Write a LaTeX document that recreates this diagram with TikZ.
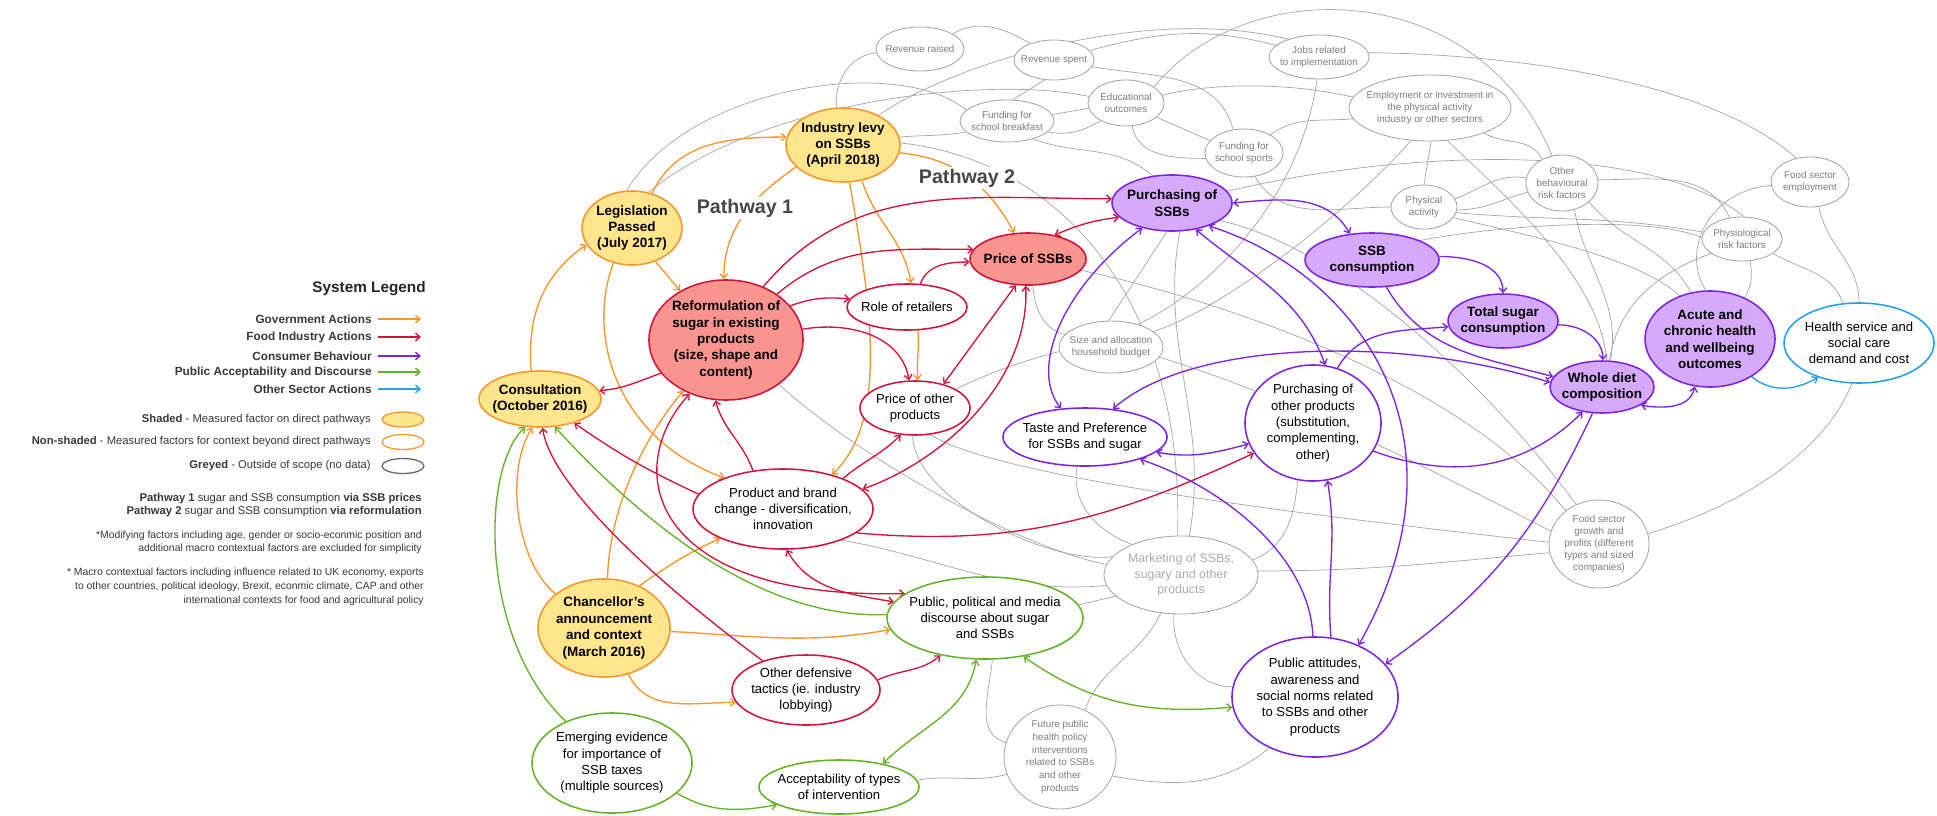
\documentclass[tikz,border=0pt]{standalone}
\usepackage{fontspec}
\setmainfont{Liberation Sans}
\usetikzlibrary{arrows.meta,shapes.geometric,backgrounds}
\definecolor{govc}{RGB}{247,150,45}
\definecolor{indc}{RGB}{208,20,60}
\definecolor{conc}{RGB}{125,35,225}
\definecolor{pubc}{RGB}{100,178,40}
\definecolor{othc}{RGB}{35,160,240}
\definecolor{yelf}{RGB}{255,229,140}
\definecolor{redf}{RGB}{250,148,142}
\definecolor{purf}{RGB}{214,170,250}
\definecolor{lnkc}{RGB}{165,165,165}
\definecolor{gtx}{RGB}{125,125,125}

\begin{document}
\begin{tikzpicture}[x=0.025cm,y=-0.025cm,
   sz/.style 2 args={minimum width=#1*0.05cm,minimum height=#2*0.05cm},
   ent/.style={ellipse,inner sep=-60pt,align=center,line width=1.1pt,fill=white},
   bld/.style={font=\fontsize{9.6}{11.7}\selectfont\bfseries},
   reg/.style={font=\fontsize{9.3}{11.6}\selectfont},
   shd/.style={ent,bld,draw=govc,fill=yelf},
   rdf/.style={ent,bld,draw=indc,fill=redf},
   rdn/.style={ent,reg,draw=indc},
   grn/.style={ent,reg,draw=pubc},
   ppf/.style={ent,bld,draw=conc,fill=purf},
   ppn/.style={ent,reg,draw=conc},
   blu/.style={ent,reg,draw=othc},
   gry/.style={ent,draw=lnkc,line width=0.6pt,text=gtx,font=\fontsize{7}{8.5}\selectfont},
   onetip/.style={-{Straight Barb[length=3.2pt,width=5.5pt]}},
   twoway/.style={{Straight Barb[length=3.2pt,width=5.5pt]}-{Straight Barb[length=3.2pt,width=5.5pt]}},
   gov/.style={draw=govc,line width=0.95pt,onetip},
   ind/.style={draw=indc,line width=0.95pt,onetip},
   con/.style={draw=conc,line width=0.95pt,onetip},
   pub/.style={draw=pubc,line width=0.95pt,onetip},
   oth/.style={draw=othc,line width=0.95pt,onetip},
   lnk/.style={draw=lnkc,line width=0.5pt},
   pth/.style={font=\fontsize{14}{16}\selectfont\bfseries,text=black!72,fill=white,inner sep=1.5pt},
   lgl/.style={font=\fontsize{8.4}{10}\selectfont\bfseries,text=black!78,inner sep=0pt},
   lgt/.style={font=\fontsize{8}{9.5}\selectfont,text=black!78,inner sep=0pt}]
\useasboundingbox (0,0) rectangle (1937,815);

% measured factors on the pathways
\node[shd,sz={50}{37}] (leg) at (632,228) {Legislation\\Passed\\(July 2017)};
\node[shd,sz={57}{37}] (levy) at (843,145) {Industry levy\\on SSBs\\(April 2018)};
\node[shd,sz={61}{28}] (cons) at (540,399) {Consultation\\(October 2016)};
\node[shd,sz={66}{49}] (chanc) at (604,628) {Chancellor's\\announcement\\and context\\(March 2016)};
\node[rdf,sz={77}{60}] (reform) at (726,340) {Reformulation of\\sugar in existing\\products\\(size, shape and\\content)};
\node[rdf,sz={58}{26}] (pssb) at (1028,259) {Price of SSBs};
\node[rdn,sz={60}{23}] (retail) at (907,307) {Role of retailers};
\node[rdn,sz={55}{27}] (pother) at (915,408) {Price of other\\products};
\node[rdn,sz={90}{40}] (brand) at (783,509) {Product and brand\\change - diversification,\\innovation};
\node[rdn,sz={74}{35}] (defend) at (806,690) {Other defensive\\tactics (ie. industry\\lobbying)};
\node[grn,sz={98}{41}] (disc) at (985,618) {Public, political and media\\discourse about sugar\\and SSBs};
\node[grn,sz={80}{50}] (evid) at (612,763) {Emerging evidence\\for importance of\\SSB taxes\\(multiple sources)};
\node[grn,sz={80}{27}] (accept) at (839,787) {Acceptability of types\\of intervention};
\node[ppf,sz={60}{28}] (purssb) at (1172,203) {Purchasing of\\SSBs};
\node[ppf,sz={67}{27}] (ssbcons) at (1372,260) {SSB\\consumption};
\node[ppf,sz={55}{27}] (totsug) at (1503,321) {Total sugar\\consumption};
\node[ppf,sz={52}{26}] (diet) at (1602,387) {Whole diet\\composition};
\node[ppf,sz={65}{48}] (acute) at (1710,339) {Acute and\\chronic health\\and wellbeing\\outcomes};
\node[ppn,sz={82}{29}] (taste) at (1085,437) {Taste and Preference\\for SSBs and sugar};
\node[ppn,sz={68}{58}] (purother) at (1313,423) {Purchasing of\\other products\\(substitution,\\complementing,\\other)};
\node[ppn,sz={83}{60}] (attit) at (1315,697) {Public attitudes,\\awareness and\\social norms related\\to SSBs and other\\products};
\node[blu,sz={75}{40}] (health) at (1859,343) {Health service and\\social care\\demand and cost};

% greyed, out of scope
\node[gry,sz={44}{22}] (revraised) at (920,49) {Revenue raised};
\node[gry,sz={40}{20}] (revspent) at (1054,60) {Revenue spent};
\node[gry,sz={47}{21}] (breakfast) at (1007,121) {Funding for\\school breakfast};
\node[gry,sz={38}{23}] (edu) at (1126,103) {Educational\\outcomes};
\node[gry,sz={39}{24}] (sports) at (1244,153) {Funding for\\school sports};
\node[gry,sz={50}{22}] (jobs) at (1319,57) {Jobs related\\to implementation};
\node[gry,sz={81}{33}] (employ) at (1430,108) {Employment or investment in\\the physical activity\\industry or other sectors};
\node[gry,sz={33}{22}] (physact) at (1424,207) {Physical\\activity};
\node[gry,sz={36}{28}] (otherrisk) at (1562,183) {Other\\behavioural\\risk factors};
\node[gry,sz={39}{25}] (foodemp) at (1810,182) {Food sector\\employment};
\node[gry,sz={40}{22}] (physio) at (1742,239) {Physiological\\risk factors};
\node[gry,sz={52}{26}] (budget) at (1111,347) {Size and allocation\\household budget};
\node[gry,sz={77}{39},font=\fontsize{8.8}{11.2}\selectfont,text=black!33] (market) at (1181,575) {Marketing of SSBs,\\sugary and other\\products};
\node[gry,sz={56}{52},font=\fontsize{7}{9}\selectfont] (future) at (1060,757) {Future public\\health policy\\interventions\\related to SSBs\\and other\\products};
\node[gry,sz={50}{44},font=\fontsize{7.1}{8.6}\selectfont] (foodgrowth) at (1599,544) {Food sector\\growth and\\profits (different\\types and sized\\companies)};

\node[pth] (pw1) at (745,208) {Pathway 1};
\node[pth] (pw2) at (967,178) {Pathway 2};

\begin{scope}[on background layer]
\fill[white] (0,0) rectangle (1937,815);
% grey links
\draw[lnk] (levy.100) to[out=95,in=185] (revraised.185);
\draw[lnk] (leg.98) .. controls (690,85) and (900,55) .. (breakfast.165);
\draw[lnk] (leg.65) .. controls (760,100) and (990,75) .. (edu.170);
\draw[lnk] (levy.40) .. controls (960,60) and (1150,5) .. (jobs.150);
\draw[lnk] (levy.8) to[out=5,in=190] (breakfast.195);
\draw[lnk] (revraised.25) to[out=30,in=150] (revspent.145);
\draw[lnk] (revspent.-115) -- (breakfast.75);
\draw[lnk] (revspent.15) to[out=15,in=165] (jobs.165);
\draw[lnk] (revspent.-10) to[out=-10,in=105] (sports.115);
\draw[lnk] (breakfast.8) -- (edu.188);
\draw[lnk] (breakfast.-15) to[out=-10,in=-150] (edu.-145);
\draw[lnk] (edu.-25) -- (sports.160);
\draw[lnk] (edu.-75) to[out=-80,in=180] (sports.188);
\draw[lnk] (edu.30) .. controls (1250,-30) and (1480,-20) .. (otherrisk.110);
\draw[lnk] (edu.12) .. controls (1200,85) and (1280,80) .. (employ.172);
\draw[lnk] (breakfast.-35) to[out=-20,in=140] (purssb.125);
\draw[lnk] (jobs.5) .. controls (1550,55) and (1720,90) .. (foodemp.120);
\draw[lnk] (jobs.-95) .. controls (1300,200) and (1210,290) .. (budget.40);
\draw[lnk] (sports.35) to[out=35,in=185] (employ.188);
\draw[lnk] (sports.-65) to[out=-60,in=180] (physact.180);
\draw[lnk] (employ.-120) .. controls (1340,220) and (1220,310) .. (budget.20);
\draw[lnk] (employ.-88) -- (physact.90);
\draw[lnk] (employ.-62) .. controls (1510,200) and (1600,280) .. (diet.80);
\draw[lnk] (employ.-25) to[out=-30,in=115] (otherrisk.130);
\draw[lnk] (physact.15) to[out=20,in=170] (otherrisk.172);
\draw[lnk] (physact.-5) to[out=0,in=195] (otherrisk.195);
\draw[lnk] (physact.-10) to[out=-5,in=170] (physio.170);
\draw[lnk] (physact.-20) .. controls (1550,240) and (1640,260) .. (acute.125);
\draw[lnk] (otherrisk.5) to[out=0,in=115] (physio.120);
\draw[lnk] (otherrisk.-35) to[out=-50,in=120] (acute.112);
\draw[lnk] (otherrisk.-65) to[out=-80,in=80] (diet.72);
\draw[lnk] (physio.-70) to[out=-80,in=60] (acute.50);
\draw[lnk] (physio.-25) to[out=-30,in=110] (health.112);
\draw[lnk] (foodemp.185) .. controls (1710,190) and (1680,250) .. (acute.95);
\draw[lnk] (foodemp.-70) to[out=-80,in=90] (health.90);
\draw[lnk] (ssbcons.22) .. controls (1500,225) and (1650,215) .. (physio.178);
\draw[lnk] (purssb.12) .. controls (1400,150) and (1650,140) .. (physio.85);
\draw[lnk] (diet.75) to[out=80,in=200] (physio.205);
\draw[lnk] (budget.95) -- (purssb.-100);
\draw[lnk] (pssb.-80) to[out=-85,in=165] (budget.165);
\draw[lnk] (budget.185) to[out=195,in=25] (pother.25);
\draw[lnk] (budget.-12) .. controls (1300,400) and (1450,480) .. (foodgrowth.165);
\draw[lnk] (levy.2) .. controls (1060,160) and (1185,300) .. (market.95);
\draw[lnk] (purssb.-75) to[out=-100,in=80] (market.78);
\draw[lnk] (reform.-40) .. controls (850,450) and (1010,545) .. (market.172);
\draw[lnk] (pother.-95) .. controls (915,500) and (1050,565) .. (market.165);
\draw[lnk] (pother.-60) .. controls (1000,480) and (1350,520) .. (foodgrowth.178);
\draw[lnk] (brand.-28) to[out=-10,in=185] (market.188);
\draw[lnk] (taste.-105) to[out=-100,in=160] (market.148);
\draw[lnk] (market.12) to[out=20,in=-95] (purother.-105);
\draw[lnk] (market.-100) to[out=-95,in=180] (attit.173);
\draw[lnk] (market.-118) to[out=-115,in=70] (future.62);
\draw[lnk] (market.198) -- (disc.8);
\draw[lnk] (market.3) to[out=0,in=185] (foodgrowth.190);
\draw[lnk] (disc.-80) to[out=-95,in=165] (future.165);
\draw[lnk] (future.-20) to[out=-10,in=220] (attit.228);
\draw[lnk] (accept.5) to[out=10,in=195] (future.198);
\draw[lnk] (foodgrowth.12) .. controls (1760,500) and (1830,440) .. (health.-100);
\draw[lnk] (purssb.-20) .. controls (1350,250) and (1500,400) .. (foodgrowth.120);
\draw[lnk] (pssb.-12) .. controls (1220,300) and (1460,380) .. (foodgrowth.135);
% government actions
\draw[gov] (cons.107) to[out=95,in=215] (leg.200);
\draw[gov] (leg.60) to[out=65,in=180] (levy.172);
\draw[gov] (levy.205) to[out=215,in=90] (reform.92);
\draw[gov] (levy.-8) to[out=-5,in=118] (pssb.118);
\draw[gov] (levy.-62) to[out=-72,in=100] (retail.80);
\draw[gov] (levy.-80) .. controls (870,300) and (890,420) .. (brand.35);
\draw[gov] (retail.-65) to[out=-85,in=95] (pother.84);
\draw[gov] (leg.-55) -- (reform.133);
\draw[gov] (leg.-118) .. controls (585,340) and (620,440) .. (brand.152);
\draw[gov] (chanc.145) .. controls (515,560) and (505,470) .. (cons.-105);
\draw[gov] (chanc.86) .. controls (610,500) and (650,430) .. (reform.-130);
\draw[gov] (chanc.50) to[out=35,in=205] (brand.205);
\draw[gov] (chanc.-3) to[out=-3,in=190] (disc.187);
\draw[gov] (chanc.-62) to[out=-65,in=180] (defend.190);
% food industry actions
\draw[ind] (reform.207) to[out=200,in=5] (cons.8);
\draw[ind] (brand.170) to[out=155,in=-35] (cons.-35);
\draw[ind] (defend.146) .. controls (640,570) and (550,480) .. (cons.-85);
\draw[ind,twoway] (reform.-124) .. controls (620,470) and (650,600) .. (disc.163);
\draw[ind,twoway] (brand.-85) to[out=-60,in=170] (disc.170);
\draw[ind] (defend.8) to[out=25,in=220] (disc.-140);
\draw[ind] (reform.28) to[out=20,in=175] (retail.172);
\draw[ind] (reform.42) to[out=40,in=180] (pssb.170);
\draw[ind] (reform.55) to[out=50,in=180] (purssb.176);
\draw[ind] (retail.60) to[out=70,in=180] (pssb.183);
\draw[ind] (reform.8) to[out=10,in=100] (pother.102);
\draw[ind,twoway] (pssb.42) to[bend left=8] (purssb.195);
\draw[ind,twoway] (pssb.-115) -- (pother.40);
\draw[ind,twoway] (brand.14) .. controls (945,460) and (1030,380) .. (pssb.-95);
\draw[ind] (brand.27) to[out=40,in=225] (pother.-118);
\draw[ind] (brand.128) to[out=110,in=-75] (reform.-100);
\draw[ind] (brand.-18) to[out=-5,in=205] (purother.207);
% consumer behaviour
\draw[con,twoway] (purssb.0) to[out=5,in=120] (ssbcons.130);
\draw[con] (ssbcons.3) to[out=0,in=90] (totsug.90);
\draw[con] (ssbcons.-62) to[out=-60,in=165] (diet.168);
\draw[con,twoway] (taste.45) .. controls (1190,340) and (1400,335) .. (diet.175);
\draw[con] (purother.66) to[out=60,in=185] (totsug.186);
\draw[con] (totsug.-4) to[out=0,in=90] (diet.88);
\draw[con,twoway] (diet.-25) to[out=-10,in=-100] (acute.-108);
\draw[con] (purother.-25) to[out=-20,in=225] (diet.-128);
\draw[con] (diet.-110) to[out=-115,in=35] (attit.25);
\draw[con,twoway] (purssb.-32) .. controls (1350,270) and (1480,430) .. (attit.50);
\draw[con,twoway] (purssb.-48) to[out=-40,in=110] (purother.78);
\draw[con,twoway] (purssb.220) .. controls (1060,290) and (1030,370) .. (taste.130);
\draw[con,twoway] (taste.-12) to[out=-10,in=195] (purother.198);
\draw[con] (attit.92) .. controls (1310,560) and (1230,490) .. (taste.-22);
\draw[con] (attit.75) to[out=95,in=-80] (purother.-76);
% other sector
\draw[oth] (acute.-42) to[out=-40,in=210] (health.220);
% public acceptability and discourse
\draw[pub] (evid.138) .. controls (480,640) and (480,470) .. (cons.-118);
\draw[pub] (disc.178) .. controls (760,620) and (640,520) .. (cons.-62);
\draw[pub] (evid.-25) to[out=-30,in=190] (accept.196);
\draw[pub,twoway] (accept.28) to[out=45,in=-100] (disc.-102);
\draw[pub,twoway] (disc.-45) to[out=-35,in=185] (attit.187);
\end{scope}

% legend
\node[font=\fontsize{10.9}{13}\selectfont\bfseries,text=black!85,anchor=east,inner sep=0pt] (sysl) at (426,289) {System Legend};
\foreach \st/\lab/\yy [count=\k] in {gov/Government Actions/319,ind/Food Industry Actions/337,con/Consumer Behaviour/356,pub/Public Acceptability and Discourse/372,oth/Other Sector Actions/389}{
  \node[lgl,anchor=east] (lgd\k) at (372,\yy) {\lab};
  \coordinate (la\k) at (378,\yy);
  \coordinate (lb\k) at (421,\yy);
  \draw[\st] (la\k) -- (lb\k);}
\node[shd,sz={21}{7.5},line width=0.9pt] (lsh) at (403,419.5) {};
\node[ent,draw=govc,sz={21}{7.5},line width=0.9pt] (lns) at (403,442) {};
\node[ent,draw=black!60,sz={21}{7.5},line width=0.9pt] (lgr) at (403,466) {};
\node[lgt,anchor=east] (tsh) at (371,419.5) {\textbf{Shaded} - Measured factor on direct pathways};
\node[lgt,anchor=east] (tns) at (371,442) {\textbf{Non-shaded} - Measured factors for context beyond direct pathways};
\node[lgt,anchor=east] (tgr) at (371,466) {\textbf{Greyed} - Outside of scope (no data)};
\node[lgt,anchor=east,align=right,font=\fontsize{8}{9.3}\selectfont] (pwl) at (422,505.5) {\textbf{Pathway 1} sugar and SSB consumption \textbf{via SSB prices}\\\textbf{Pathway 2} sugar and SSB consumption \textbf{via reformulation}};
\node[lgt,anchor=east,align=right,font=\fontsize{7.4}{9.5}\selectfont] (fn1) at (422,542.5) {*Modifying factors including age, gender or socio-econmic position and\\additional macro contextual factors are excluded for simplicity};
\node[lgt,anchor=east,align=right,font=\fontsize{7.4}{9.9}\selectfont] (fn2) at (424,587) {* Macro contextual factors including influence related to UK economy, exports\\to other countries, political ideology, Brexit, econmic climate, CAP and other\\international contexts for food and agricultural policy};
\end{tikzpicture}
\end{document}
